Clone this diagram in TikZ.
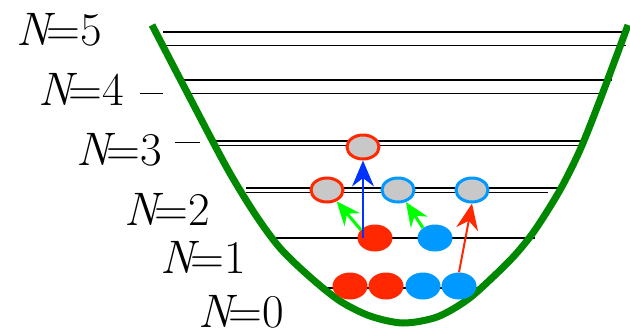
\documentclass[tikz,border=0pt]{standalone}
\usetikzlibrary{arrows.meta, shapes.geometric}
\definecolor{wellgreen}{RGB}{0,136,0}
\definecolor{ptred}{RGB}{255,40,0}
\definecolor{ptblue}{RGB}{0,153,255}
\definecolor{arrblue}{RGB}{0,51,255}
\definecolor{arrgreen}{RGB}{0,255,0}
\definecolor{holegray}{RGB}{200,200,200}

\begin{document}
\begin{tikzpicture}[x=1pt, y=-1pt,
  lvl/.style={line width=1.3pt},
  lbl/.style={anchor=base west, inner sep=0pt, font=\fontsize{47}{47}\selectfont},
  ball/.style={ellipse, minimum width=35pt, minimum height=27pt, inner sep=0pt},
  hole/.style={ellipse, fill=holegray, line width=3pt, minimum width=32pt, minimum height=24pt, inner sep=0pt}]
  \useasboundingbox (0,0) rectangle (630,333);
  % energy levels
  \draw[lvl] (163,32) -- (628,32);
  \draw[lvl, line width=0.9pt] (163,45) -- (626,45);
  \draw[lvl] (180,80) -- (612,80);
  \draw[lvl, line width=0.9pt] (185,93) -- (606,93);
  \draw[lvl] (215,141) -- (582,141);
  \draw[lvl, line width=0.9pt] (215,145) -- (580,145);
  \draw[lvl] (246,188) -- (558,188);
  \draw[lvl, line width=0.9pt] (246,192) -- (548,192);
  \draw[lvl] (270,238) -- (535,238);
  \draw[lvl] (325,288) -- (480,288);
  \draw[line width=0.6pt] (140,93) -- (163,93);
  \draw[line width=0.6pt] (175,142) -- (200,142);
  % labels
  \node[lbl] (l5) at (16,45) {\textit{N}\kern-.18em=5};
  \node[lbl] (l4) at (38,105) {\textit{N}\kern-.18em=4};
  \node[lbl] (l3) at (76,165) {\textit{N}\kern-.18em=3};
  \node[lbl] (l2) at (124,225) {\textit{N}\kern-.18em=2};
  \node[lbl] (l1) at (160,273) {\textit{N}\kern-.18em=1};
  \node[lbl] (l0) at (198,327) {\textit{N}\kern-.18em=0};
  % well
  \draw[wellgreen, line width=7pt] plot[smooth, tension=0.5] coordinates {(152,25) (190,98) (227,168) (255,214) (280,248) (310,277) (340,301) (370,316) (403,323) (437,317) (467,300) (493,277) (515,255) (535,230) (560,190) (580,150) (600,100) (628,25)};
  % particles
  \node[ball, fill=ptred] (r0a) at (350,286) {};
  \node[ball, fill=ptred] (r0b) at (386,286) {};
  \node[ball, fill=ptblue] (b0a) at (423,286) {};
  \node[ball, fill=ptblue] (b0b) at (459,286) {};
  \node[ball, fill=ptred] (r1) at (375,238) {};
  \node[ball, fill=ptblue] (b1) at (435,238) {};
  \node[hole, draw=ptred] (r2) at (327,190) {};
  \node[hole, draw=ptblue] (b2) at (398,190) {};
  \node[hole, draw=ptblue] (b2b) at (472,190) {};
  \node[hole, draw=ptred] (r3) at (363,147) {};
  % excitations
  \draw[-{Stealth[length=26pt, width=22pt]}, arrblue, line width=1.5pt] (r3.south |- r1.center) -- (r3.south);
  \draw[-{Stealth[length=24pt, width=20pt]}, arrgreen, line width=3pt] (r1.150) -- (r2);
  \draw[-{Stealth[length=24pt, width=20pt]}, arrgreen, line width=3pt] (b1.140) -- (b2);
  \draw[-{Stealth[length=26pt, width=22pt]}, ptred, line width=2pt] (b0b.north) -- (b2b.south);
\end{tikzpicture}
\end{document}
